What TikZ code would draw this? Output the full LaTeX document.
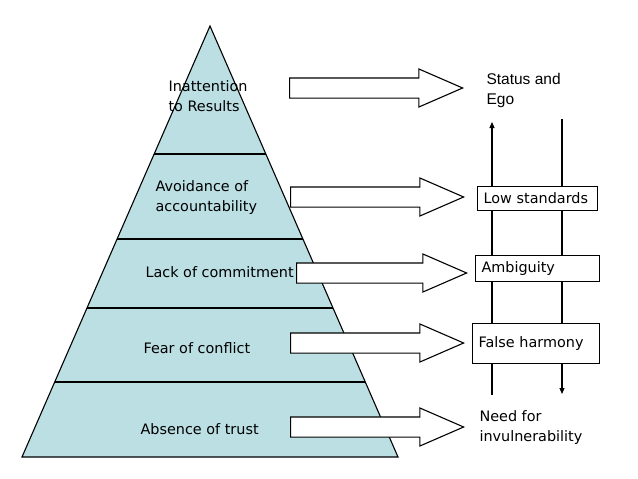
\documentclass[tikz,border=0pt]{standalone}
\usepackage{fontspec}
\setmainfont{DejaVu Sans}
\newfontfamily\arialfont{Liberation Sans}
\usetikzlibrary{positioning, arrows.meta, calc, shapes.arrows}
\definecolor{pyrblue}{RGB}{187,223,227}

\begin{document}
\begin{tikzpicture}[x=1pt, y=-1pt, line width=1.1pt, font=\fontsize{14.4}{20}\selectfont,
		layer/.style={anchor=west, inner sep=0pt, align=left},
		bigarrow/.style={draw, fill=white, shape=single arrow, inner xsep=0pt, inner ysep=9.5pt, minimum height=173pt, single arrow head extend=9pt, single arrow tip angle=47, anchor=tip},
		stdbox/.style={draw, fill=white, anchor=north west, align=left, inner xsep=6pt},
		side/.style={anchor=west, inner sep=0pt, align=left, font=\arialfont\fontsize{15.5}{20}\selectfont}]
			\useasboundingbox (0,0) rectangle (638,479);
			% pyramid
			\coordinate (apex) at (210,26);
			\coordinate (bl) at (22,457);
			\coordinate (br) at (398,457);
			\draw[fill=pyrblue] (apex) -- (br) -- (bl) -- cycle;
			\foreach \yy in {154,239,308,382}
				\draw ($(apex)!{(\yy-26)/431}!(bl)$) -- ($(apex)!{(\yy-26)/431}!(br)$);
			
			\node[layer] (inatt) at (168,96) {Inattention\\to Results};
			\node[layer] (avoid) at (155,198) {Avoidance of\\accountability};
			\node[layer] (lack) at (145,272) {Lack of commitment};
			\node[layer] (fear) at (143,348) {Fear of conflict};
			\node[layer] (trust) at (140,429) {Absence of trust};
			
			% right column
			\coordinate (lt) at (492,122);
			\coordinate (lb) at (492,395);
			\coordinate (rt) at (562,119);
			\coordinate (rb) at (562,394);
			\draw[-{Triangle[length=6pt,width=5pt]}] (lb) -- (lt);
			\draw[-{Triangle[length=6pt,width=5pt]}] (rt) -- (rb);
			
			\node[side] (status) at (486,90) {Status and\\Ego};
			\node[stdbox, minimum width=120pt, minimum height=24pt, text width=108pt] (low) at (477,186) {Low standards};
			\node[stdbox, minimum width=124pt, minimum height=26pt, text width=112pt] (ambig) at (475,255) {Ambiguity};
			\node[stdbox, minimum width=127pt, minimum height=40pt, text width=115pt] (harm) at (472,323) {False harmony};
			\node[layer] (need) at (479,428) {Need for\\invulnerability};
			
			% block arrows
			\node[bigarrow] (a1) at (464,88) {};
			\node[bigarrow] (a2) at (465,197) {};
			\node[bigarrow, minimum height=170pt] (a3) at (468,273) {};
			\node[bigarrow] (a4) at (465,343) {};
			\node[bigarrow] (a5) at (465,427) {};
		\end{tikzpicture}
\end{document}
